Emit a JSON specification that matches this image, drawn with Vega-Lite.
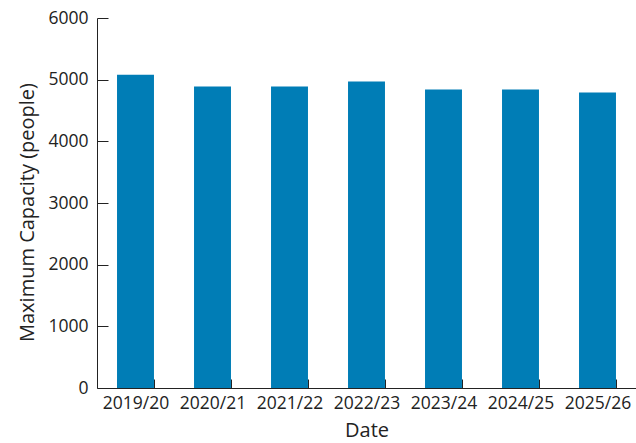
{
  "$schema": "https://vega.github.io/schema/vega-lite/v6.json",
  "width": 539,
  "height": 370,
  "autosize": "none",
  "padding": {"left": 97, "top": 18, "right": 0, "bottom": 55},
  "background": "white",
  "config": {
    "view": {"stroke": null},
    "font": "Open Sans",
    "axis": {
      "labelFont": "Open Sans",
      "titleFont": "Open Sans",
      "labelFontSize": 17.5,
      "titleFontSize": 20,
      "labelColor": "#222222",
      "titleColor": "#222222",
      "titleFontWeight": "normal",
      "domainColor": "#222222",
      "tickColor": "#222222",
      "grid": false
    }
  },
  "data": {
    "values": [
      {"Date": "2019/20", "Capacity": 5080},
      {"Date": "2020/21", "Capacity": 4890},
      {"Date": "2021/22", "Capacity": 4890},
      {"Date": "2022/23", "Capacity": 4970},
      {"Date": "2023/24", "Capacity": 4840},
      {"Date": "2024/25", "Capacity": 4840},
      {"Date": "2025/26", "Capacity": 4790}
    ]
  },
  "mark": {"type": "bar", "color": "#007db6"},
  "encoding": {
    "x": {
      "field": "Date",
      "type": "nominal",
      "sort": null,
      "scale": {"paddingInner": 0.52, "paddingOuter": 0.26},
      "axis": {
        "title": "Date",
        "labelAngle": 0,
        "tickBand": "extent",
        "tickSize": -9,
        "labelPadding": 15,
        "titlePadding": 9
      }
    },
    "y": {
      "field": "Capacity",
      "type": "quantitative",
      "scale": {"domain": [0, 6000], "nice": false},
      "axis": {
        "title": "Maximum Capacity (people)",
        "format": "d",
        "values": [0, 1000, 2000, 3000, 4000, 5000, 6000],
        "tickSize": -11,
        "labelPadding": 20,
        "titlePadding": 10,
        "titleY": 194
      }
    }
  }
}
